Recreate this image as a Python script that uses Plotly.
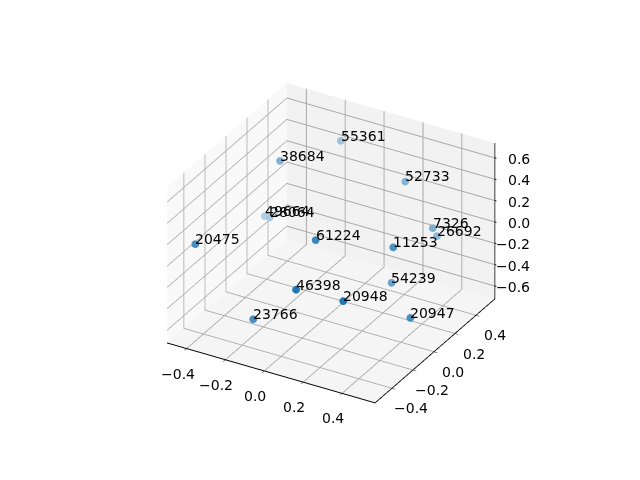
import numpy as np
import plotly.graph_objects as go

labels = ["55361", "38684", "52733", "49664", "28064", "7326", "26692", "61224",
          "11253", "20475", "54239", "46398", "20948", "23766", "20947"]
xs = [-0.18, -0.325, 0.184, -0.42, -0.375, 0.374, 0.369, 0.08,
      0.355, -0.415, 0.33, 0.125, 0.33, -0.09, 0.526]
ys = [0.50, 0.19, 0.44, 0.22, 0.185, 0.35, 0.40, -0.22,
      0.01, -0.45, 0.04, -0.49, -0.42, -0.50, -0.144]
zs = [0.437, 0.437, 0.297, -0.155, -0.115, 0.037, -0.083, 0.258,
      0.138, 0.157, -0.233, 0.048, -0.011, -0.333, -0.302]

x_ticks = [-0.4, -0.2, 0.0, 0.2, 0.4]
y_ticks = [-0.4, -0.2, 0.0, 0.2, 0.4]
z_ticks = [-0.6, -0.4, -0.2, 0.0, 0.2, 0.4, 0.6]
x_range = [-0.5, 0.57]
y_range = [-0.56, 0.58]
z_range = [-0.72, 0.74]

# depth shading like mplot3d, flattened against the pane colour
depth = 0.433 * np.array(xs) - 0.75 * np.array(ys) + 0.375 * np.array(zs)
alpha = 0.3 + 0.7 * (depth - depth.min()) / (depth.max() - depth.min())
base = np.array([31, 119, 180])
colors = ["rgb(%d,%d,%d)" % tuple(a * base + (1 - a) * 245) for a in alpha]

FONT = dict(family="DejaVu Sans", size=14, color="#000000")


def axis(ticks, rng, pane, edge=True):
    return dict(
        range=rng,
        tickvals=ticks,
        showticklabels=False,
        title=dict(text=""),
        showbackground=True,
        backgroundcolor=pane,
        gridcolor="#a8a8a8",
        gridwidth=2,
        showline=edge,
        linecolor="#000000",
        linewidth=2,
        zeroline=False,
        ticks="outside" if edge else "",
        ticklen=4,
        tickcolor="#000000",
        showspikes=False,
    )


def tick_text(t):
    return f"{t:.1f}".replace("-", "\u2212")


# plotly keeps the z axis on the left from this camera, so it is redrawn on the right edge
annotations = [
    dict(x=x, y=y, z=z, text=t, showarrow=False, xanchor="left", yanchor="bottom",
         xshift=-2, yshift=-5, font=FONT)
    for x, y, z, t in zip(xs, ys, zs, labels)
]
annotations += [
    dict(x=t, y=y_range[0], z=z_range[0], text=tick_text(t), showarrow=False,
         xanchor="center", yanchor="middle", xshift=-9, yshift=-25, font=FONT)
    for t in x_ticks
]
annotations += [
    dict(x=x_range[1], y=t, z=z_range[0], text=tick_text(t), showarrow=False,
         xanchor="center", yanchor="middle", xshift=19, yshift=-20, font=FONT)
    for t in y_ticks
]
annotations += [
    dict(x=x_range[1], y=y_range[1], z=t, text=tick_text(t), showarrow=False,
         xanchor="right", yanchor="middle", xshift=37, yshift=-1, font=FONT)
    for t in z_ticks
]
annotations += [
    dict(x=x_range[1], y=y_range[1], z=t, text=" ", showarrow=True, arrowhead=0,
         arrowwidth=1, arrowcolor="#000000", ax=5, ay=1, standoff=0, font=FONT)
    for t in z_ticks
]

fig = go.Figure()
fig.add_trace(go.Scatter3d(
    x=xs,
    y=ys,
    z=zs,
    mode="markers",
    marker=dict(size=4.5, color=colors, line=dict(width=0)),
))
fig.add_trace(go.Scatter3d(
    x=[x_range[1], x_range[1]],
    y=[y_range[1], y_range[1]],
    z=z_range,
    mode="lines",
    line=dict(color="#000000", width=1.5),
))
fig.update_layout(
    width=640,
    height=480,
    margin=dict(l=0, r=0, t=0, b=0),
    paper_bgcolor="#ffffff",
    showlegend=False,
    scene=dict(
        domain=dict(x=[0, 1], y=[0, 1]),
        xaxis=axis(x_ticks, x_range, "#f9f9f9"),
        yaxis=axis(y_ticks, y_range, "#f2f2f2"),
        zaxis=axis(z_ticks, z_range, "#f5f5f5", edge=False),
        aspectmode="manual",
        aspectratio=dict(x=1, y=1, z=0.75),
        camera=dict(
            eye=dict(x=1.0744, y=-1.8904, z=1.2319),
            center=dict(x=-0.0056, y=-0.0154, z=-0.0181),
            up=dict(x=0, y=0, z=1),
            projection=dict(type="orthographic"),
        ),
        annotations=annotations,
    ),
)
fig.write_html("out.html")
